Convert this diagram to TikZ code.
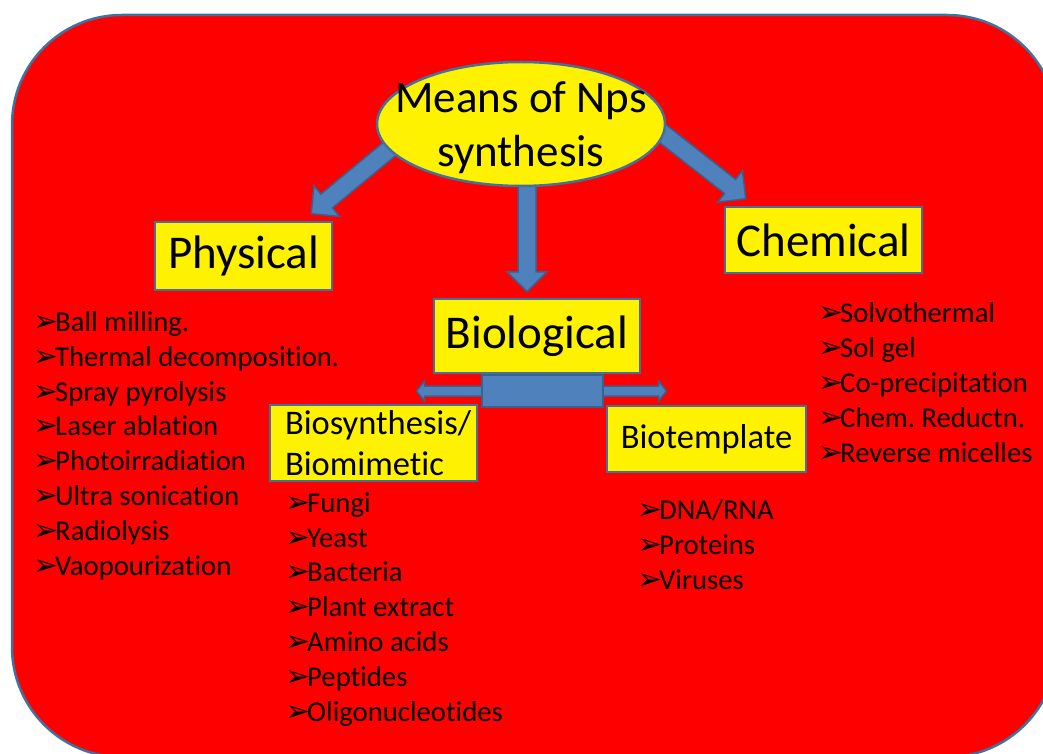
\documentclass[tikz,border=0pt]{standalone}
\usepackage{fontspec}
\setmainfont{Carlito}[Ligatures=NoCommon]
\newfontfamily\symfont{DejaVu Sans}
\usetikzlibrary{calc,shapes.geometric}
\definecolor{boxline}{RGB}{65,113,156}
\definecolor{arrowfill}{RGB}{79,129,189}
\definecolor{arrowline}{RGB}{58,96,142}
\pgfdeclarelayer{back}
\pgfdeclarelayer{mid}
\pgfsetlayers{back,mid,main}
\frenchspacing
\newcommand{\bul}{\makebox[22pt][l]{\symfont\fontsize{30}{30}\selectfont ➢}}
% block arrow from #1 to the tip #2
\newcommand{\fatarrow}[2]{%
  \coordinate (fa-s) at (#1);
  \coordinate (fa-t) at (#2);
  \coordinate (fa-h) at ($(fa-t)!20pt!(fa-s)$);
  \draw[blockarrow] ($(fa-s)!9pt!90:(fa-t)$) -- ($(fa-h)!9pt!90:(fa-t)$) -- ($(fa-h)!20pt!90:(fa-t)$) -- (fa-t)
    -- ($(fa-h)!20pt!-90:(fa-t)$) -- ($(fa-h)!9pt!-90:(fa-t)$) -- ($(fa-s)!9pt!-90:(fa-t)$) -- cycle;}
\begin{document}
\begin{tikzpicture}[x=1pt, y=-1pt,
    box/.style={draw=boxline, line width=2.5pt, fill=yellow, inner sep=0pt},
    big/.style={font=\fontsize{47}{55}\selectfont},
    mid/.style={font=\fontsize{34.5}{41}\selectfont},
    list/.style={anchor=base west, align=left, inner sep=0pt, font=\fontsize{28.7}{34.8}\selectfont},
    blockarrow/.style={fill=arrowfill, draw=arrowline, line width=1.5pt, line join=miter}]
    \useasboundingbox (0,0) rectangle (1043,754);
    \begin{pgfonlayer}{back}
        \draw[draw=boxline, line width=2.5pt, fill=red, rounded corners=110pt] (12,15) rectangle (1057,757);
    \end{pgfonlayer}
    % main boxes
    \node[box, ellipse, minimum width=288pt, minimum height=124pt,
        label={[font=\fontsize{45}{54}\selectfont, align=center, yshift=-4pt]center:Means of Nps\\synthesis}] (means) at (521,124) {};
    \node[box, big, minimum width=177pt, minimum height=68pt] (phys) at (243.5,256) {Physical};
    \node[box, big, minimum width=197pt, minimum height=66pt] (chem) at (823.5,240) {Chemical};
    \node[box, big, minimum width=206pt, minimum height=74pt] (bio) at (537,336) {Biological};
    \node[box, mid, minimum width=207pt, minimum height=76pt, align=left, text width=177pt] (bsyn) at (373.5,443) {Biosynthesis/\\Biomimetic};
    \node[box, mid, minimum width=199pt, minimum height=66pt] (btemp) at (706.5,439) {Biotemplate};
    \node[fill=arrowfill, draw=arrowline, line width=2pt, minimum width=121pt, minimum height=32pt] (link) at (542.5,391) {};
    % arrows
    \begin{pgfonlayer}{mid}
        \fatarrow{$(means.west)+(27,14)$}{$(phys.north east)+(-22,-7)$}
        \fatarrow{$(means.south)+(6,-10)$}{$(bio.north)+(-10,-6)$}
        \fatarrow{$(means.east)+(-17,-1)$}{$(chem.north west)+(22,-7)$}
        \coordinate (lt) at ($(link.center)+(-126,0)$);
        \coordinate (rt) at ($(link.center)+(124,0)$);
        \draw[blockarrow] (lt) -- ++(8,-10) -- ++(0,5) -- ($(rt)+(-8,-5)$) -- ++(0,-5) -- (rt) -- ++(-8,10)
            -- ++(0,-5) -- ($(lt)+(8,5)$) -- ++(0,5) -- cycle;
    \end{pgfonlayer}
    % lists (base = last line)
    \node[list] (physlist) at (33,575) {\bul Ball milling.\\\bul Thermal decomposition.\\\bul Spray pyrolysis\\\bul Laser ablation\\\bul Photoirradiation\\\bul Ultra sonication\\\bul Radiolysis\\\bul Vaopourization};
    \node[list] (bsynlist) at (285,721) {\bul Fungi\\\bul Yeast\\\bul Bacteria\\\bul Plant extract\\\bul Amino acids\\\bul Peptides\\\bul Oligonucleotides};
    \node[list] (btemplist) at (637,589) {\bul DNA/RNA\\\bul Proteins\\\bul Viruses};
    \node[list] (chemlist) at (818,462) {\bul Solvothermal\\\bul Sol gel\\\bul Co-precipitation\\\bul Chem. Reductn.\\\bul Reverse micelles};
\end{tikzpicture}
\end{document}
